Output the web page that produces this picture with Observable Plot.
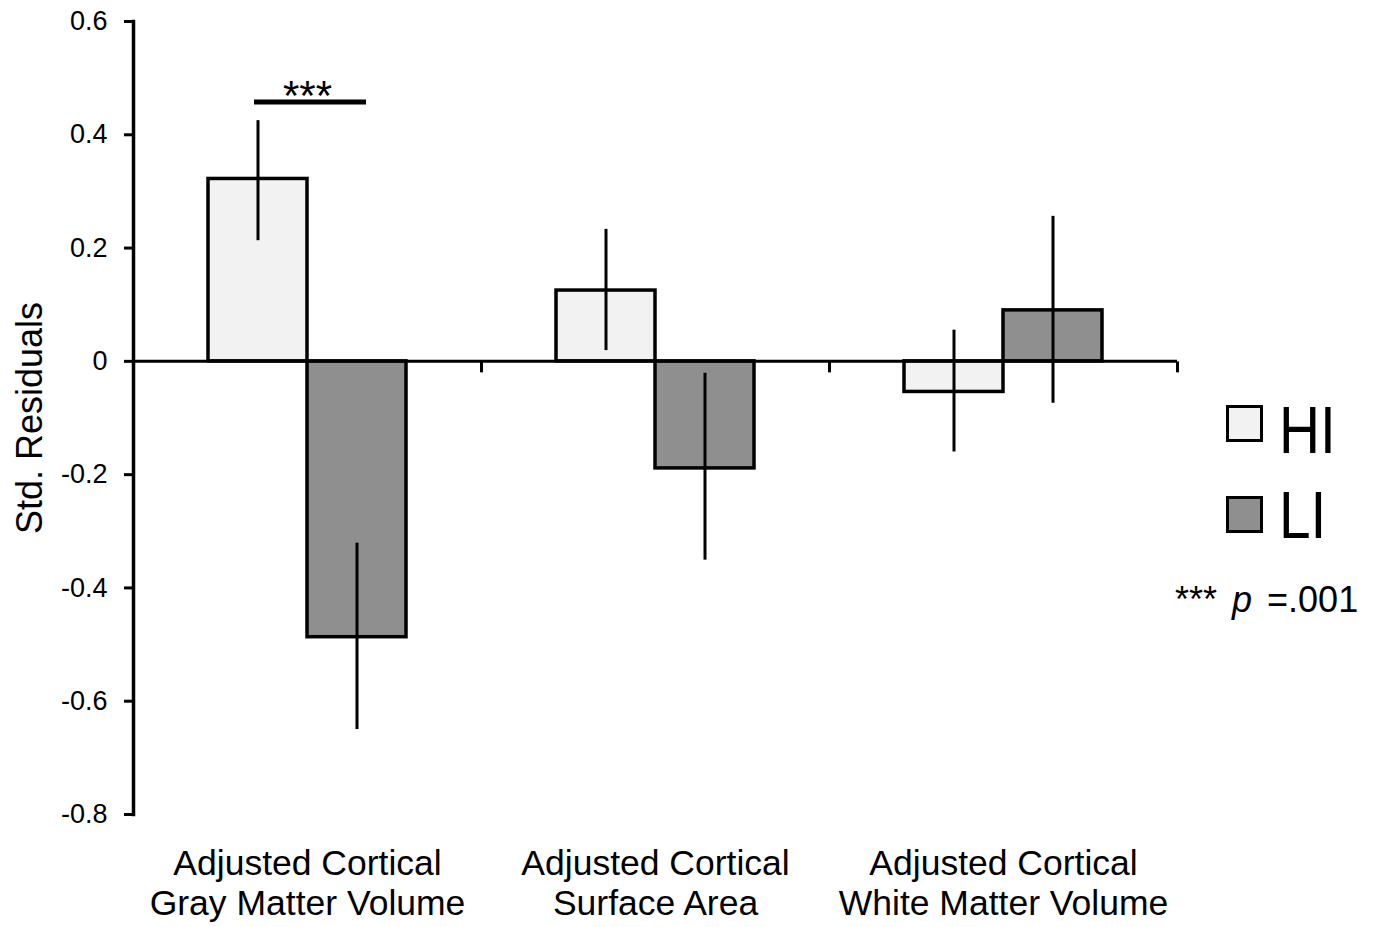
<!DOCTYPE html>
<html>
<head>
<meta charset="utf-8">
<script src="https://cdn.jsdelivr.net/npm/d3@7"></script>
<script src="https://cdn.jsdelivr.net/npm/@observablehq/plot@0.6"></script>
<style>
  body { margin: 0; background: #fff; font-family: "Liberation Sans", Arial, sans-serif; }
  #wrap { position: relative; width: 1378px; height: 927px; }
  .swatch { position: absolute; left: 1226px; width: 37px; height: 37px; box-sizing: border-box; border: 3.5px solid #000; }
  .leglabel { position: absolute; left: 1279px; font-size: 66px; line-height: 66px; transform: scaleX(0.86); transform-origin: left center; color: #000; }
  .note { position: absolute; left: 1175px; font-size: 36px; line-height: 36px; white-space: nowrap; word-spacing: 5px; color: #000; }
</style>
</head>
<body>
<div id="wrap"></div>
<script>
// ---- data ----
const groups = [
  "Adjusted Cortical\nGray Matter Volume",
  "Adjusted Cortical\nSurface Area",
  "Adjusted Cortical\nWhite Matter Volume"
];
const series = ["HI", "LI"];
const hiMean = [0.322, 0.125, -0.054];
const hiLow  = [0.213, 0.019, -0.160];
const hiHigh = [0.425, 0.233, 0.055];
const liMean = [-0.487, -0.189, 0.090];
const liLow  = [-0.650, -0.351, -0.074];
const liHigh = [-0.321, -0.021, 0.256];
const yTicks = [0.6, 0.4, 0.2, 0, -0.2, -0.4, -0.6, -0.8];
const yLabel = "Std. Residuals";
const sigGroup = groups[0];
const sigLevel = 0.458;
const sigText = "***";
const noteP = "p";
const noteValue = "=.001";
const seriesColors = ["#f2f2f2", "#8f8f8f"];

// ---- table ----
const rows = [];
groups.forEach((g, i) => {
  rows.push({group: g, series: "HI", mean: hiMean[i], low: hiLow[i], high: hiHigh[i]});
  rows.push({group: g, series: "LI", mean: liMean[i], low: liLow[i], high: liHigh[i]});
});
const sig = [{group: sigGroup, y: sigLevel, text: sigText}];

const tickDown = { draw(ctx) { ctx.moveTo(0, 0); ctx.lineTo(0, 11); } };

const plot = Plot.plot({
  width: 1378,
  height: 927,
  marginLeft: 132,
  marginRight: 200,
  marginTop: 21,
  marginBottom: 113,
  style: { fontFamily: "'Liberation Sans', Arial, sans-serif", fontSize: "27px", color: "#000", background: "#fff" },
  fx: { domain: groups, padding: 0 },
  x: { domain: series, paddingInner: 0, paddingOuter: 0.7435, axis: null },
  y: { domain: [-0.8, 0.6], nice: false },
  color: { domain: series, range: seriesColors },
  marks: [
    Plot.barY(rows, { fx: "group", x: "series", y: "mean", fill: "series", stroke: "#000", strokeWidth: 3.5 }),
    Plot.ruleY([0], { stroke: "#000", strokeWidth: 3 }),
    Plot.dot([0], { y: d => d, frameAnchor: "right", symbol: tickDown, stroke: "#000", strokeWidth: 3, fill: "none" }),
    Plot.ruleX(rows, { fx: "group", x: "series", y1: "low", y2: "high", stroke: "#000", strokeWidth: 3 }),
    Plot.ruleY(sig, { fx: "group", y: "y", x1: () => series[0], x2: () => series[1], stroke: "#000", strokeWidth: 5, insetLeft: 46, insetRight: 40 }),
    Plot.text(sig, { fx: "group", y: "y", text: "text", fontSize: 42, lineAnchor: "middle", dy: -5, fill: "#000" }),
    Plot.frame({ anchor: "left", facetAnchor: "left", stroke: "#000", strokeWidth: 3.5 }),
    Plot.axisY({ ticks: yTicks, tickFormat: d => d === 0 ? "0" : d.toFixed(1), fontSize: 27, tickSize: 9, tickPadding: 17, strokeWidth: 3, label: null }),
    Plot.text([yLabel], { text: d => d, frameAnchor: "left", textAnchor: "middle", rotate: -90, dx: -103, fontSize: 36, facetAnchor: "left", fill: "#000" }),
    Plot.axisFx({ anchor: "bottom", label: null, tickSize: 0, tickPadding: 31, fontSize: 35.5, lineHeight: 1.15 })
  ]
});

const wrap = document.getElementById("wrap");
wrap.appendChild(plot);

// legend (right side)
const legTops = [405, 496];
const labelTops = [397, 482];
series.forEach((s, i) => {
  const sw = document.createElement("div");
  sw.className = "swatch";
  sw.style.top = legTops[i] + "px";
  sw.style.background = seriesColors[i];
  wrap.appendChild(sw);
  const lb = document.createElement("div");
  lb.className = "leglabel";
  lb.style.top = labelTops[i] + "px";
  lb.textContent = s;
  wrap.appendChild(lb);
});
const note = document.createElement("div");
note.className = "note";
note.style.top = "582px";
note.innerHTML = sigText + " <i>" + noteP + "</i> " + noteValue;
wrap.appendChild(note);
</script>
</body>
</html>
